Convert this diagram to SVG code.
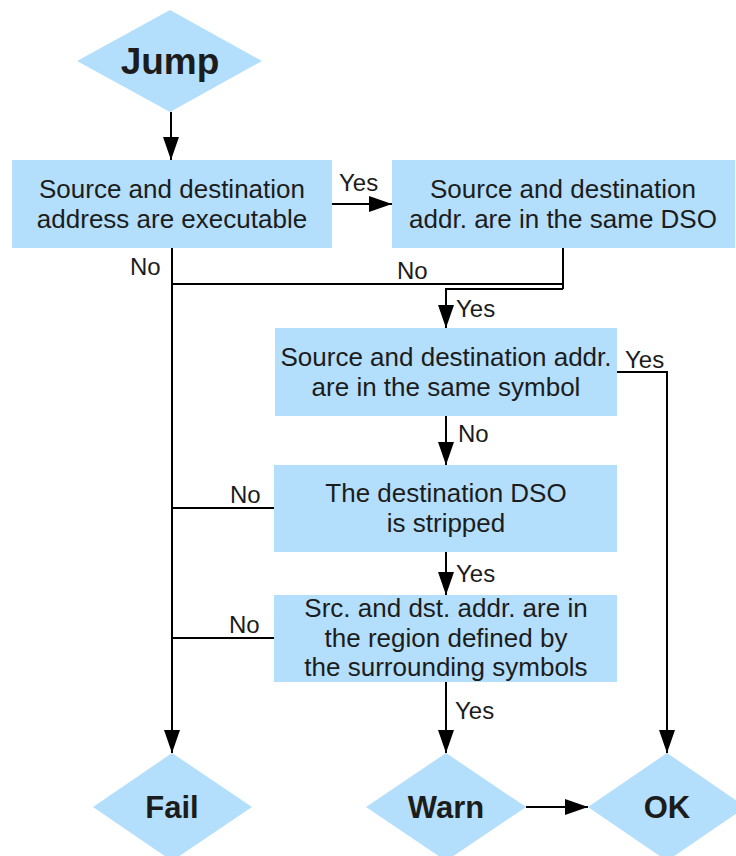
<svg xmlns="http://www.w3.org/2000/svg" width="736" height="856" viewBox="0 0 736 856">
<style>
.box{fill:#b4dffc;stroke:none}
.t{font-family:"Liberation Sans",Arial,sans-serif;font-size:26px;fill:#1c1c1c;text-anchor:middle}
.b{font-family:"Liberation Sans",Arial,sans-serif;font-weight:bold;fill:#1c1c1c;text-anchor:middle}
.l{font-family:"Liberation Sans",Arial,sans-serif;font-size:24px;fill:#1c1c1c}
.c{fill:none;stroke:#000;stroke-width:2}
.a{marker-end:url(#ah)}
</style>
<defs>
<marker id="ah" markerUnits="userSpaceOnUse" markerWidth="24" markerHeight="16" refX="23" refY="8" orient="auto">
<path d="M0,0 L23,8 L0,16 z" fill="#000"/>
</marker>
</defs>
<g id="connectors">
<path class="c a" d="M171,112 V160"/>
<path class="c a" d="M332,204 H392"/>
<path class="c a" d="M172,248 V753"/>
<path class="c" d="M563,248 V289"/>
<path class="c" d="M172,284 H563"/>
<path class="c a" d="M563,289 H446 V328"/>
<path class="c a" d="M617,372 H667 V753"/>
<path class="c a" d="M446,416 V465"/>
<path class="c" d="M172,508 H274"/>
<path class="c a" d="M446,552 V595"/>
<path class="c" d="M172,638 H274"/>
<path class="c a" d="M446,682 V753"/>
<path class="c a" d="M526,807 H588"/>
<text class="l" x="339" y="191">Yes</text>
<text class="l" x="130" y="275">No</text>
<text class="l" x="397" y="279">No</text>
<text class="l" x="456" y="317">Yes</text>
<text class="l" x="625" y="368">Yes</text>
<text class="l" x="458" y="442">No</text>
<text class="l" x="230" y="503">No</text>
<text class="l" x="456" y="582">Yes</text>
<text class="l" x="229" y="633">No</text>
<text class="l" x="455" y="719">Yes</text>
</g>
<g id="jump">
<polygon class="box" points="170,10 262,61 170,112 77,61"/>
<text class="b" x="170" y="74" font-size="37">Jump</text>
</g>
<g id="exec">
<rect class="box" x="12" y="160" width="320" height="88"/>
<text class="t" x="172" y="198">Source and destination</text>
<text class="t" x="172" y="228">address are executable</text>
</g>
<g id="samedso">
<rect class="box" x="392" y="160" width="343" height="88"/>
<text class="t" x="563" y="198">Source and destination</text>
<text class="t" x="563" y="228">addr. are in the same DSO</text>
</g>
<g id="samesym">
<rect class="box" x="275" y="328" width="342" height="88"/>
<text class="t" x="446" y="366">Source and destination addr.</text>
<text class="t" x="446" y="396">are in the same symbol</text>
</g>
<g id="stripped">
<rect class="box" x="274" y="465" width="343" height="87"/>
<text class="t" x="446" y="502">The destination DSO</text>
<text class="t" x="446" y="532">is stripped</text>
</g>
<g id="region">
<rect class="box" x="274" y="595" width="343" height="87"/>
<text class="t" x="446" y="617">Src. and dst. addr. are in</text>
<text class="t" x="446" y="647">the region defined by</text>
<text class="t" x="446" y="676">the surrounding symbols</text>
</g>
<g id="fail">
<polygon class="box" points="172,753 252,807 172,861 93,807"/>
<text class="b" x="172" y="818" font-size="31">Fail</text>
</g>
<g id="warn">
<polygon class="box" points="446,753 526,807 446,861 366,807"/>
<text class="b" x="446" y="818" font-size="31">Warn</text>
</g>
<g id="ok">
<polygon class="box" points="667,753 746,807 667,861 588,807"/>
<text class="b" x="667" y="818" font-size="31">OK</text>
</g>
</svg>
